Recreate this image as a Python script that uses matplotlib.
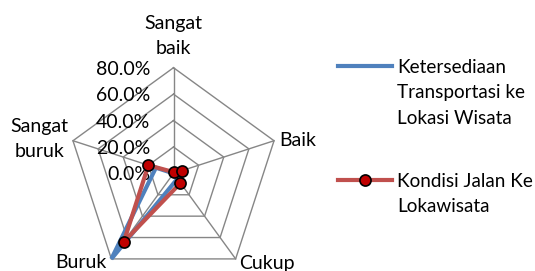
import numpy as np
import matplotlib
matplotlib.use("Agg")
import matplotlib.pyplot as plt
from matplotlib.transforms import offset_copy
from matplotlib.lines import Line2D

categories = ["Sangat\nbaik", "Baik", "Cukup", "Buruk", "Sangat\nburuk"]
transport = [0.00, 0.02, 0.05, 0.80, 0.14]
jalan = [0.01, 0.07, 0.09, 0.64, 0.20]
series_labels = ["Ketersediaan\nTransportasi ke\nLokasi Wisata", "Kondisi Jalan Ke\nLokawisata"]
rticks = [0.0, 0.2, 0.4, 0.6, 0.8]
rtick_labels = ["0.0%", "20.0%", "40.0%", "60.0%", "80.0%"]

plt.rcParams['font.family'] = ['Lato', 'DejaVu Sans']
FS = 14
LFS = 13.6
LS = 1.6
W, H = 535, 271
fig = plt.figure(figsize=(W / 100, H / 100), dpi=100)
cx, cy, R = 173.5, 173.4, 105.7
ax = fig.add_axes([(cx - R) / W, (H - cy - R) / H, 2 * R / W, 2 * R / H], projection='polar')
ax.set_theta_zero_location('N')
ax.set_theta_direction(-1)
ax.set_ylim(0, rticks[-1])
ax.grid(False)
ax.spines['polar'].set_visible(False)
ax.set_xticks([])
ax.set_yticks([])
ax.patch.set_alpha(0)

n = len(categories)
angles = np.linspace(0, 2 * np.pi, n, endpoint=False)
closed = np.append(angles, angles[0])
grid_c = '#868686'
for r in rticks[1:]:
    ax.plot(closed, [r] * (n + 1), color=grid_c, lw=1.0, clip_on=False, zorder=1)
for a in angles:
    ax.plot([a, a], [0, rticks[-1]], color=grid_c, lw=1.0, clip_on=False, zorder=1)

ax.plot(closed, transport + transport[:1], color='#4F81BD', lw=3, clip_on=False, zorder=3,
        solid_joinstyle='miter')
ax.plot(closed, jalan + jalan[:1], color='#C0504D', lw=3, clip_on=False, zorder=4,
        marker='o', ms=8, mfc='#C00000', mec='black', mew=1.2, markevery=list(range(n)),
        solid_joinstyle='miter')

# radial tick labels
for r, lab in zip(rticks, rtick_labels):
    tr = offset_copy(ax.transData, fig=fig, x=-23.5, y=-1.5, units='dots')
    ax.text(0, r, lab, transform=tr, ha='right', va='center', fontsize=FS, color='black')

# category labels
offs = [(0, 32, 'center'), (5, 0.5, 'left'), (3.7, -4.3, 'left'), (-4.4, -4, 'right'), (-33.5, 2, 'center')]
for a, lab, (dx, dy, ha) in zip(angles, categories, offs):
    tr = offset_copy(ax.transData, fig=fig, x=dx, y=dy, units='dots')
    ax.text(a, rticks[-1], lab, transform=tr, ha=ha, va='center', fontsize=FS,
            multialignment='center', linespacing=LS)

handles = [Line2D([], [], color='#4F81BD', lw=3),
           Line2D([], [], color='#C0504D', lw=3, marker='o', ms=8, mfc='#C00000', mec='black', mew=1.2)]
leg = fig.legend(handles, series_labels, loc='upper left', bbox_to_anchor=(338 / W, 1 - 59 / H),
                 frameon=False, handlelength=2.85, handletextpad=0.27, labelspacing=2.45,
                 borderaxespad=0, borderpad=0, fontsize=LFS)
for t in leg.get_texts():
    t.set_linespacing(LS)
try:
    for col in leg._legend_handle_box.get_children():
        for hp in col.get_children():
            hp.align = 'top'
except Exception:
    pass

fig.savefig('out.png', dpi=100)
